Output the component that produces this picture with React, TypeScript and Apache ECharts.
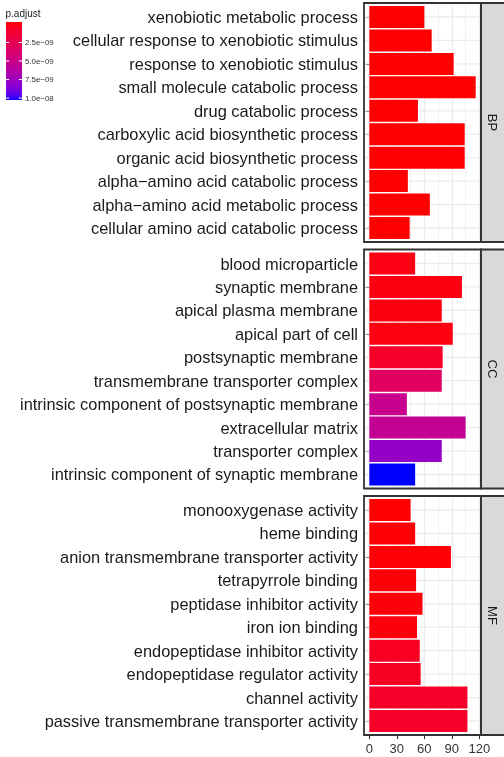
import React, { useEffect, useRef } from "react";
import * as echarts from "echarts";

// ---------------- data ----------------
const bpTerms = [
  "xenobiotic metabolic process",
  "cellular response to xenobiotic stimulus",
  "response to xenobiotic stimulus",
  "small molecule catabolic process",
  "drug catabolic process",
  "carboxylic acid biosynthetic process",
  "organic acid biosynthetic process",
  "alpha\u2212amino acid catabolic process",
  "alpha\u2212amino acid metabolic process",
  "cellular amino acid catabolic process",
];
const bpCounts = [60, 68, 92, 116, 53, 104, 104, 42, 66, 44];
const bpPadj = [2.1e-12, 4.5e-12, 8.0e-13, 1.2e-13, 6.3e-12, 3.0e-12, 3.6e-12, 9.5e-12, 1.4e-11, 1.1e-11];

const ccTerms = [
  "blood microparticle",
  "synaptic membrane",
  "apical plasma membrane",
  "apical part of cell",
  "postsynaptic membrane",
  "transmembrane transporter complex",
  "intrinsic component of postsynaptic membrane",
  "extracellular matrix",
  "transporter complex",
  "intrinsic component of synaptic membrane",
];
const ccCounts = [50, 101, 79, 91, 80, 79, 41, 105, 79, 50];
const ccPadj = [3.6e-10, 3.2e-10, 2.6e-10, 3.0e-10, 1.0e-9, 3.2e-9, 5.2e-9, 5.5e-9, 7.7e-9, 1.0e-8];

const mfTerms = [
  "monooxygenase activity",
  "heme binding",
  "anion transmembrane transporter activity",
  "tetrapyrrole binding",
  "peptidase inhibitor activity",
  "iron ion binding",
  "endopeptidase inhibitor activity",
  "endopeptidase regulator activity",
  "channel activity",
  "passive transmembrane transporter activity",
];
const mfCounts = [45, 50, 89, 51, 58, 52, 55, 56, 107, 107];
const mfPadj = [3e-11, 6e-11, 1.0e-10, 1.2e-10, 1.6e-10, 2.0e-10, 7.5e-10, 8.0e-10, 1.0e-9, 1.0e-9];

const facetNames = ["BP", "CC", "MF"];
const xTicks = [0, 30, 60, 90, 120];
const legendTicks = [2.5e-9, 5.0e-9, 7.5e-9, 1.0e-8];
const legendTickLabels = ["2.5e\u221209", "5.0e\u221209", "7.5e\u221209", "1.0e\u221208"];
const padjMin = 0;
const padjMax = 1.0e-8;

// ---------------- colour helpers (CIELAB ramp red -> blue) ----------------
const Xn = 0.95047, Yn = 1.0, Zn = 1.08883;
const toLin = (c: number) => {
  c /= 255;
  return c <= 0.04045 ? c / 12.92 : Math.pow((c + 0.055) / 1.055, 2.4);
};
const fromLin = (c: number) => {
  c = Math.max(0, Math.min(1, c));
  const v = c <= 0.0031308 ? 12.92 * c : 1.055 * Math.pow(c, 1 / 2.4) - 0.055;
  return Math.round(v * 255);
};
const fLab = (t: number) => (t > 0.008856 ? Math.cbrt(t) : 7.787 * t + 16 / 116);
const fInv = (t: number) => (t > 0.206893 ? t * t * t : (t - 16 / 116) / 7.787);
function rgbToLab(rgb: number[]) {
  const R = toLin(rgb[0]), G = toLin(rgb[1]), B = toLin(rgb[2]);
  const X = (0.4124 * R + 0.3576 * G + 0.1805 * B) / Xn;
  const Y = (0.2126 * R + 0.7152 * G + 0.0722 * B) / Yn;
  const Z = (0.0193 * R + 0.1192 * G + 0.9505 * B) / Zn;
  const fx = fLab(X), fy = fLab(Y), fz = fLab(Z);
  return [116 * fy - 16, 500 * (fx - fy), 200 * (fy - fz)];
}
function labToHex(lab: number[]) {
  const fy = (lab[0] + 16) / 116;
  const fx = fy + lab[1] / 500;
  const fz = fy - lab[2] / 200;
  const X = Xn * fInv(fx), Y = Yn * fInv(fy), Z = Zn * fInv(fz);
  const R = 3.2406 * X - 1.5372 * Y - 0.4986 * Z;
  const G = -0.9689 * X + 1.8758 * Y + 0.0415 * Z;
  const B = 0.0557 * X - 0.204 * Y + 1.057 * Z;
  const h = (v: number) => fromLin(v).toString(16).padStart(2, "0");
  return "#" + h(R) + h(G) + h(B);
}
const labLow = rgbToLab([255, 0, 0]);
const labHigh = rgbToLab([0, 0, 255]);
const rampStops: string[] = [];
const NSTOP = 40;
for (let i = 0; i <= NSTOP; i++) {
  const t = i / NSTOP;
  rampStops.push(
    labToHex([0, 1, 2].map((k) => labLow[k] + (labHigh[k] - labLow[k]) * t))
  );
}

// ---------------- layout ----------------
const PANEL_LEFT = 364;
const PANEL_W = 117;
const PANEL_H = 239;
const PANEL_TOPS = [3, 249.5, 496];
const X_MIN = -5.8;
const X_MAX_FULL = 121.8;
const X_MAX_AXIS = 120;
const PX = PANEL_W / (X_MAX_FULL - X_MIN);
const GRID_LEFT = PANEL_LEFT + (0 - X_MIN) * PX;
const GRID_W = X_MAX_AXIS * PX;
const INSET = 2.3;
const FONT = "'Liberation Sans', Arial, Helvetica, sans-serif";

export default function App() {
  const ref = useRef<HTMLDivElement>(null);
  useEffect(() => {
    if (!ref.current) return;
    const chart = echarts.init(ref.current, undefined, { renderer: "svg" });

    const panels = [
      { terms: bpTerms, counts: bpCounts, padj: bpPadj },
      { terms: ccTerms, counts: ccCounts, padj: ccPadj },
      { terms: mfTerms, counts: mfCounts, padj: mfPadj },
    ];

    const grids: any[] = [];
    const xAxes: any[] = [];
    const yAxes: any[] = [];
    const barSeries: any[] = [];
    const gridSeries: any[] = [];
    const graphics: any[] = [];

    panels.forEach((p, i) => {
      const top = PANEL_TOPS[i];
      const last = i === panels.length - 1;
      grids.push({
        left: GRID_LEFT,
        top: top + INSET,
        width: GRID_W,
        height: PANEL_H - 2 * INSET,
        containLabel: false,
      });
      xAxes.push({
        type: "value",
        gridIndex: i,
        min: 0,
        max: X_MAX_AXIS,
        interval: 30,
        position: "bottom",
        offset: INSET,
        axisLine: { show: false },
        axisTick: {
          show: last,
          length: 4,
          lineStyle: { color: "#333333", width: 1.1 },
        },
        axisLabel: {
          show: last,
          fontSize: 13,
          color: "#333333",
          fontFamily: FONT,
          margin: 7,
          customValues: xTicks,
        },
        splitLine: { show: true, lineStyle: { color: "#EBEBEB", width: 1.3 } },
        minorTick: { show: false, splitNumber: 2 },
        minorSplitLine: { show: true, lineStyle: { color: "#EBEBEB", width: 0.8 } },
      });
      yAxes.push({
        type: "category",
        gridIndex: i,
        data: p.terms,
        inverse: true,
        offset: GRID_LEFT - PANEL_LEFT,
        axisLine: { show: false },
        axisTick: {
          show: true,
          alignWithLabel: true,
          length: 3.5,
          lineStyle: { color: "#333333", width: 1.1 },
        },
        axisLabel: {
          fontSize: 16.4,
          color: "#1A1A1A",
          fontFamily: FONT,
          margin: 6,
        },
        splitLine: { show: false },
      });
      barSeries.push({
        type: "bar",
        xAxisIndex: i,
        yAxisIndex: i,
        barWidth: 22,
        z: 3,
        encode: { x: 0, y: 1 },
        data: p.terms.map((t, k) => [p.counts[k], t, p.padj[k]]),
      });
      gridSeries.push({
        type: "custom",
        xAxisIndex: i,
        yAxisIndex: i,
        z: 1,
        silent: true,
        encode: { x: 0, y: 1 },
        data: p.terms.map((t, k) => [0, k]),
        renderItem: (params: any, api: any) => {
          const idx = api.value(1);
          const y = api.coord([0, idx])[1];
          const x1 = api.coord([X_MIN, idx])[0];
          const x2 = api.coord([X_MAX_FULL, idx])[0];
          return {
            type: "line",
            shape: { x1, y1: y, x2, y2: y },
            style: { stroke: "#EBEBEB", lineWidth: 1.3 },
          };
        },
      });

      // strip
      graphics.push({
        type: "rect",
        z: 100,
        shape: { x: PANEL_LEFT + PANEL_W, y: top, width: 30, height: PANEL_H },
        style: { fill: "#D9D9D9", stroke: "#333333", lineWidth: 1.8 },
      });
      graphics.push({
        type: "text",
        z: 101,
        x: PANEL_LEFT + PANEL_W + 11.5,
        y: top + PANEL_H / 2,
        rotation: -Math.PI / 2,
        style: {
          text: facetNames[i],
          fontSize: 13,
          fontFamily: FONT,
          fill: "#1A1A1A",
          textAlign: "center",
          textVerticalAlign: "middle",
        },
      });
      // panel border
      graphics.push({
        type: "rect",
        z: 102,
        shape: { x: PANEL_LEFT, y: top, width: PANEL_W, height: PANEL_H },
        style: { fill: "none", stroke: "#333333", lineWidth: 1.8 },
      });
    });

    // legend (colour bar)
    const LB_X = 6, LB_Y = 22, LB_W = 16, LB_H = 78;
    const half = LB_H / 40;
    graphics.push({
      type: "text",
      x: 5.5,
      y: 13.5,
      style: {
        text: "p.adjust",
        fontSize: 10,
        fontFamily: FONT,
        fill: "#1A1A1A",
        textVerticalAlign: "middle",
      },
    });
    graphics.push({
      type: "rect",
      shape: { x: LB_X, y: LB_Y, width: LB_W, height: LB_H },
      style: {
        fill: new echarts.graphic.LinearGradient(
          0,
          0,
          0,
          1,
          rampStops.map((c, k) => ({ offset: k / NSTOP, color: c }))
        ),
      },
    });
    legendTicks.forEach((v, k) => {
      const y = LB_Y + half + ((v - padjMin) / (padjMax - padjMin)) * (LB_H - 2 * half);
      graphics.push({
        type: "line",
        shape: { x1: LB_X, y1: y, x2: LB_X + LB_W / 5, y2: y },
        style: { stroke: "#FFFFFF", lineWidth: 1 },
      });
      graphics.push({
        type: "line",
        shape: { x1: LB_X + LB_W - LB_W / 5, y1: y, x2: LB_X + LB_W, y2: y },
        style: { stroke: "#FFFFFF", lineWidth: 1 },
      });
      graphics.push({
        type: "text",
        x: LB_X + LB_W + 3,
        y,
        style: {
          text: legendTickLabels[k],
          fontSize: 7.9,
          fontFamily: FONT,
          fill: "#333333",
          textVerticalAlign: "middle",
        },
      });
    });

    chart.setOption({
      animation: false,
      textStyle: { fontFamily: FONT },
      grid: grids,
      xAxis: xAxes,
      yAxis: yAxes,
      visualMap: {
        type: "continuous",
        show: false,
        min: padjMin,
        max: padjMax,
        dimension: 2,
        seriesIndex: [0, 1, 2],
        inRange: { color: rampStops },
      },
      series: [...barSeries, ...gridSeries],
      graphic: graphics,
    });

    return () => chart.dispose();
  }, []);

  return (
    <div
      ref={ref}
      style={{ position: "fixed", left: 0, top: 0, width: 504, height: 757 }}
    />
  );
}
